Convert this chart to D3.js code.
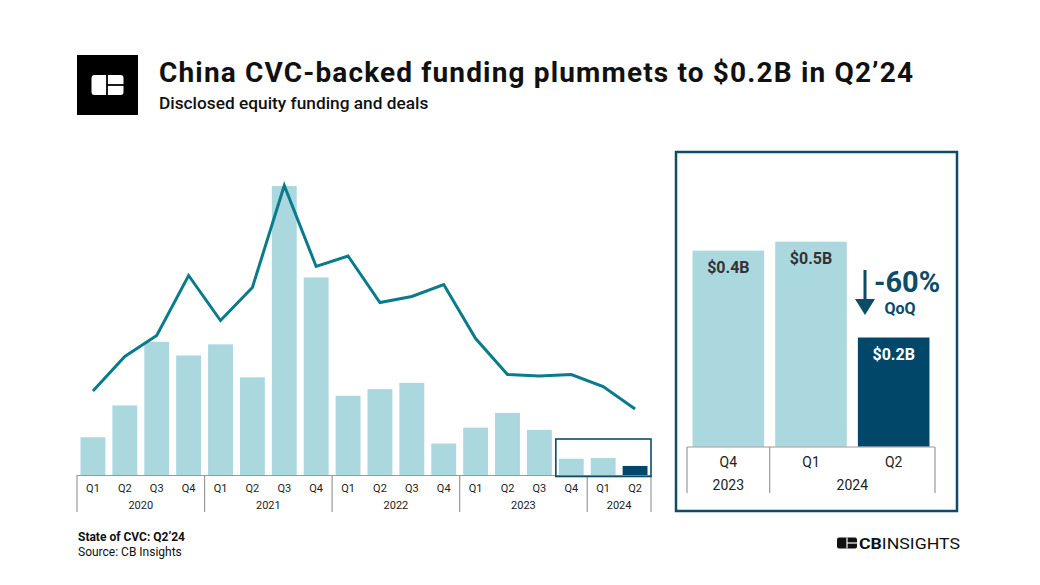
<!DOCTYPE html>
<html><head><meta charset="utf-8">
<script src="https://cdn.jsdelivr.net/npm/d3@7"></script>
<style>body{margin:0;background:#fff}svg{display:block;font-family:Roboto,"Noto Sans",sans-serif}</style>
</head><body><svg id="c" width="1040" height="585"></svg>
<script>
const quarters = ["Q1","Q2","Q3","Q4","Q1","Q2","Q3","Q4","Q1","Q2","Q3","Q4","Q1","Q2","Q3","Q4","Q1","Q2"];
const years = ["2020","2020","2020","2020","2021","2021","2021","2021","2022","2022","2022","2022","2023","2023","2023","2023","2024","2024"];
const fundingB = [1.02,1.88,3.6,3.23,3.53,2.64,7.81,5.34,2.14,2.32,2.49,0.85,1.28,1.68,1.22,0.44,0.46,0.245];
const deals = [56,79,93,133,103,125,193,139,146,115,119,127,91,67,66,67,59,44];
const zoomQuarters = ["Q4","Q1","Q2"];
const zoomYears = ["2023","2024","2024"];
const zoomFunding = [0.44,0.46,0.245];
const zoomLabels = ["$0.4B","$0.5B","$0.2B"];

const LIGHT="#abd7df", DARK="#00476a", LINE="#0a7b8b", NAVY="#0d4b68";
const svg = d3.select("#c");
const keys = quarters.map((q,i)=>years[i]+q);

// header
svg.append("rect").attr("x",77).attr("y",55).attr("width",61).attr("height",60).attr("fill","#000");
const lg = svg.append("g");
lg.append("rect").attr("x",91.5).attr("y",75).attr("width",32).attr("height",20).attr("rx",3).attr("fill","#fff");
lg.append("line").attr("x1",107).attr("x2",107).attr("y1",75).attr("y2",95).attr("stroke","#000").attr("stroke-width",1.8);
lg.append("line").attr("x1",107).attr("x2",124).attr("y1",85).attr("y2",85).attr("stroke","#000").attr("stroke-width",1.8);
svg.append("text").attr("x",159).attr("y",81.5).attr("font-size",28).attr("font-weight",700).attr("fill","#111")
  .attr("textLength",754).attr("lengthAdjust","spacing")
  .text("China CVC-backed funding plummets to $0.2B in Q2\u201924");
svg.append("text").attr("x",159).attr("y",109).attr("font-size",17.3).attr("font-weight",500).attr("fill","#111")
  .text("Disclosed equity funding and deals");

// left chart
const x = d3.scaleBand().domain(keys).range([77,651]).paddingInner(0.22).paddingOuter(0.11);
const y = d3.scaleLinear().domain([0,8]).range([475,179]);
const yd = d3.scaleLinear().domain([0,200]).range([475,175]);
svg.append("g").selectAll("rect").data(fundingB).join("rect")
  .attr("x",(d,i)=>x(keys[i])).attr("width",x.bandwidth())
  .attr("y",d=>y(d)).attr("height",d=>y(0)-y(d))
  .attr("fill",(d,i)=>i===keys.length-1?DARK:LIGHT);
svg.append("path").datum(deals).attr("fill","none").attr("stroke",LINE).attr("stroke-width",3)
  .attr("stroke-linejoin","miter")
  .attr("d",d3.line().x((d,i)=>x(keys[i])+x.bandwidth()/2).y(d=>yd(d)));

// axis
const step = x.step(), off=(step-x.bandwidth())/2;
const ax = svg.append("g");
ax.append("line").attr("x1",77).attr("x2",651).attr("y1",475.5).attr("y2",475.5).attr("stroke","#999").attr("stroke-width",1.2);
const bounds=[0,4,8,12,16,18];
bounds.forEach(b=>{
  const bx = b<18 ? x(keys[b])-off : x(keys[17])+x.bandwidth()+off;
  ax.append("line").attr("x1",bx).attr("x2",bx).attr("y1",475).attr("y2",512).attr("stroke","#999").attr("stroke-width",1.2);
});
ax.selectAll("text.q").data(quarters).join("text").attr("class","q")
  .attr("x",(d,i)=>x(keys[i])+x.bandwidth()/2).attr("y",492).attr("text-anchor","middle")
  .attr("font-size",11).attr("fill","#222").text(d=>d);
const yrs = [...new Set(years)];
yrs.forEach(yr=>{
  const idx = years.map((v,i)=>v===yr?i:-1).filter(i=>i>=0);
  const cx = (x(keys[idx[0]]) + x(keys[idx[idx.length-1]])+x.bandwidth())/2;
  ax.append("text").attr("x",cx).attr("y",509).attr("text-anchor","middle").attr("font-size",11).attr("fill","#222").text(yr);
});
// highlight box
const hx0 = x(keys[15])-off+0.5, hx1 = x(keys[17])+x.bandwidth()+off;
svg.append("rect").attr("x",hx0).attr("y",439).attr("width",hx1-hx0).attr("height",37.5)
  .attr("fill","none").attr("stroke",NAVY).attr("stroke-width",1.6);

// right panel
svg.append("rect").attr("x",676).attr("y",152).attr("width",281).attr("height",359)
  .attr("fill","none").attr("stroke",NAVY).attr("stroke-width",2.5);
const zk = zoomQuarters.map((q,i)=>zoomYears[i]+q);
const x2 = d3.scaleBand().domain(zk).range([687,935]).paddingInner(0.134).paddingOuter(0.067);
const y2 = d3.scaleLinear().domain([0,0.46]).range([446.7,241.7]);
svg.append("g").selectAll("rect").data(zoomFunding).join("rect")
  .attr("x",(d,i)=>x2(zk[i])).attr("width",x2.bandwidth())
  .attr("y",d=>y2(d)).attr("height",d=>y2(0)-y2(d))
  .attr("fill",(d,i)=>i===2?DARK:LIGHT);
svg.append("g").selectAll("text").data(zoomFunding).join("text")
  .attr("x",(d,i)=>x2(zk[i])+x2.bandwidth()/2).attr("y",d=>y2(d)+22).attr("text-anchor","middle")
  .attr("font-size",16).attr("font-weight",700).attr("fill",(d,i)=>i===2?"#fff":"#333")
  .text((d,i)=>zoomLabels[i]);
const off2=(x2.step()-x2.bandwidth())/2;
const ax2 = svg.append("g");
ax2.append("line").attr("x1",687).attr("x2",935).attr("y1",447).attr("y2",447).attr("stroke","#999").attr("stroke-width",1.2);
[687, x2(zk[1])-off2, 935].forEach(bx=>{
  ax2.append("line").attr("x1",bx).attr("x2",bx).attr("y1",447).attr("y2",493).attr("stroke","#999").attr("stroke-width",1.2);
});
ax2.selectAll("text.q").data(zoomQuarters).join("text").attr("class","q")
  .attr("x",(d,i)=>x2(zk[i])+x2.bandwidth()/2).attr("y",467).attr("text-anchor","middle")
  .attr("font-size",14).attr("fill","#222").text(d=>d);
ax2.append("text").attr("x",(687+x2(zk[1])-off2)/2).attr("y",490).attr("text-anchor","middle").attr("font-size",14).attr("fill","#222").text("2023");
ax2.append("text").attr("x",(x2(zk[1])-off2+935)/2).attr("y",490).attr("text-anchor","middle").attr("font-size",14).attr("fill","#222").text("2024");

// arrow
svg.append("line").attr("x1",865).attr("x2",865).attr("y1",270).attr("y2",302).attr("stroke",NAVY).attr("stroke-width",3);
svg.append("path").attr("d","M855,299 L875,299 L865,315 Z").attr("fill",NAVY);
svg.append("text").attr("x",874).attr("y",292).attr("font-size",29).attr("font-weight",700).attr("fill",NAVY).text("-60%");
svg.append("text").attr("x",900).attr("y",314).attr("text-anchor","middle").attr("font-size",16).attr("font-weight",700).attr("fill",NAVY).text("QoQ");

// footer
svg.append("text").attr("x",78).attr("y",541).attr("font-size",12).attr("font-weight",700).attr("fill","#111").text("State of CVC: Q2\u201924");
svg.append("text").attr("x",78).attr("y",556).attr("font-size",12).attr("fill","#111").text("Source: CB Insights");

// CB Insights logo
const cb = svg.append("g");
cb.append("rect").attr("x",837).attr("y",537.5).attr("width",20).attr("height",11).attr("rx",2).attr("fill","#111");
cb.append("line").attr("x1",847).attr("x2",847).attr("y1",537.5).attr("y2",548.5).attr("stroke","#fff").attr("stroke-width",1.2);
cb.append("line").attr("x1",847).attr("x2",857).attr("y1",543).attr("y2",543).attr("stroke","#fff").attr("stroke-width",1.2);
const t = cb.append("text").attr("x",859).attr("y",548.5).attr("font-size",15).attr("fill","#111");
t.append("tspan").attr("font-weight",700).text("CB");
t.append("tspan").attr("font-weight",400).text("INSIGHTS");
t.attr("textLength",101).attr("lengthAdjust","spacingAndGlyphs");
</script></body></html>
